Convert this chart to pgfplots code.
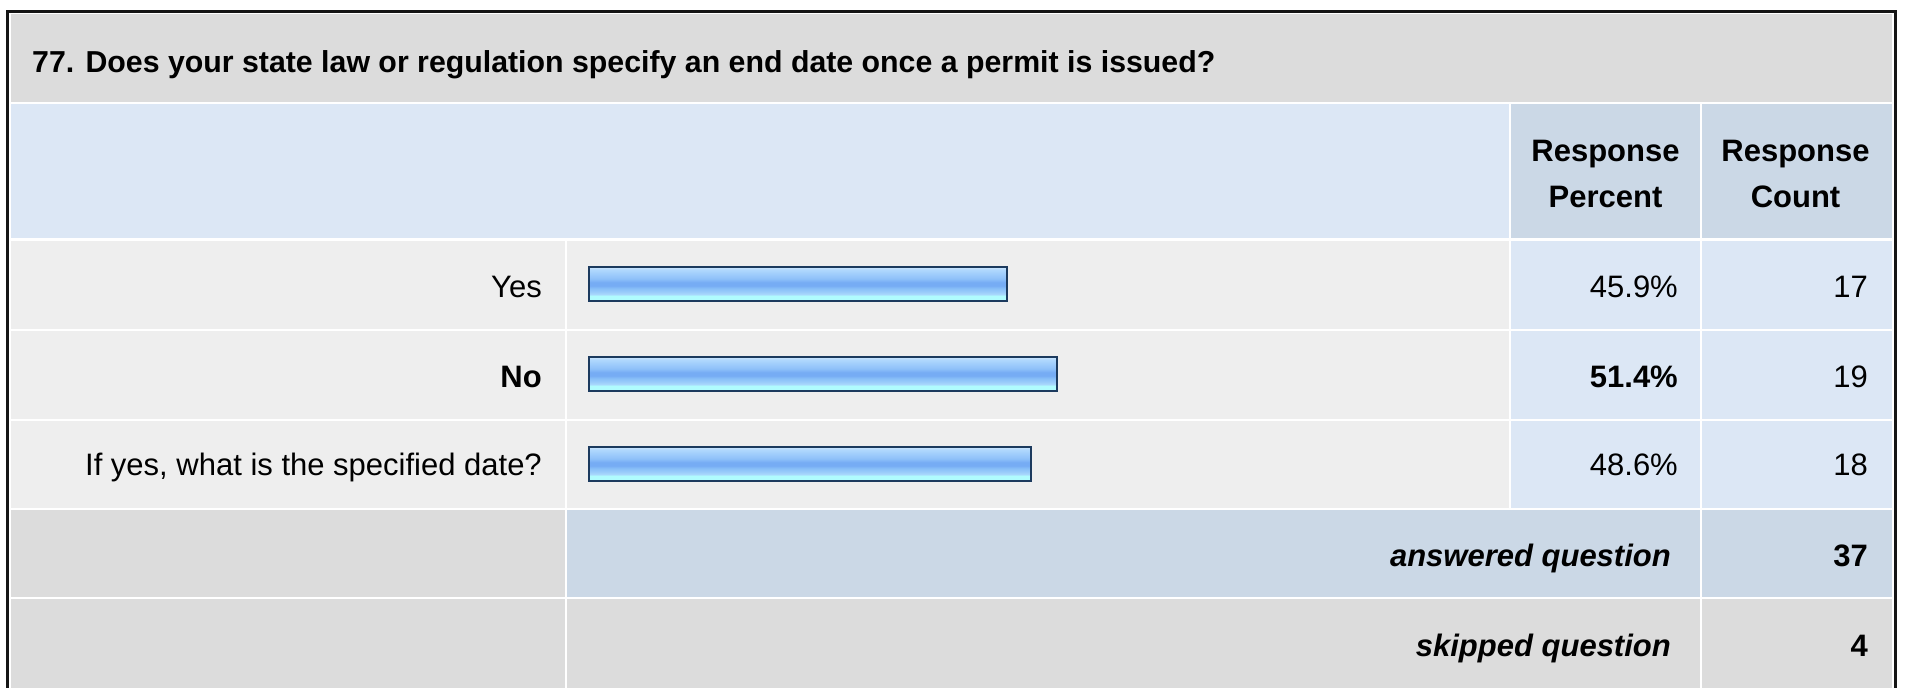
\documentclass[border=0pt]{standalone}
\usepackage{pgfplots}
\pgfplotsset{compat=1.18}
\usepackage{fontspec}
\setmainfont{Liberation Sans}
\definecolor{titlebg}{HTML}{DCDCDC}
\definecolor{hdrbg}{HTML}{DCE7F5}
\definecolor{hdrcell}{HTML}{CBD8E6}
\definecolor{rowbg}{HTML}{EEEEEE}
\definecolor{borderblk}{HTML}{151515}
\definecolor{barborder}{HTML}{1C3A5E}
\definecolor{bA}{HTML}{CDE6FF}
\definecolor{bB}{HTML}{B0D8FD}
\definecolor{bC}{HTML}{A0CDFC}
\definecolor{bD}{HTML}{8FC1F9}
\definecolor{bE}{HTML}{76ACF4}
\definecolor{bF}{HTML}{88BFF8}
\definecolor{bG}{HTML}{98CBFA}
\definecolor{bH}{HTML}{A8D8FC}
\definecolor{bI}{HTML}{B0FCFE}
\pgfdeclareverticalshading{barshade}{100bp}{color(0bp)=(bI); color(25bp)=(bI); color(32.5bp)=(bI); color(35bp)=(bH); color(39bp)=(bG); color(43.5bp)=(bF); color(47.5bp)=(bE); color(52.5bp)=(bE); color(58bp)=(bD); color(65bp)=(bC); color(71bp)=(bB); color(75bp)=(bA); color(100bp)=(bA)}
\newcommand{\fs}{\fontsize{31}{37}\selectfont}
\newcommand{\tfs}{\fontsize{30.3}{36}\selectfont}
\begin{document}
\begin{tikzpicture}
\useasboundingbox (0,0) rectangle (1907pt,-688pt);
\begin{scope}[x=1pt,y=-1pt]
  % white inner area and outer border
  \fill[white] (0,0) rectangle (1907,688);
  \fill[borderblk] (6,10) rectangle (1897,12.5);
  \fill[borderblk] (6,10) rectangle (9,688);
  \fill[borderblk] (1893.5,10) rectangle (1897,688);
  % title band
  \fill[titlebg] (11,14.3) rectangle (1892,102);
  % header row
  \fill[hdrbg] (11,104) rectangle (1509,238.3);
  \fill[hdrcell] (1511,104) rectangle (1699.5,238.3);
  \fill[hdrcell] (1702,104) rectangle (1892,238.3);
  % data rows
  \foreach \ya/\yb in {240.5/328.5, 330.5/418.5, 420.5/507.5}{
    \fill[rowbg] (11,\ya) rectangle (565,\yb);
    \fill[rowbg] (567,\ya) rectangle (1509,\yb);
    \fill[hdrbg] (1511,\ya) rectangle (1699.5,\yb);
    \fill[hdrbg] (1702,\ya) rectangle (1892,\yb);
  }
  % answered row
  \fill[titlebg] (11,509.5) rectangle (565,596.5);
  \fill[hdrcell] (567,509.5) rectangle (1699.5,596.5);
  \fill[hdrcell] (1702,509.5) rectangle (1892,596.5);
  % skipped row
  \fill[titlebg] (11,598.5) rectangle (565,688);
  \fill[titlebg] (567,598.5) rectangle (1699.5,688);
  \fill[titlebg] (1702,598.5) rectangle (1892,688);
  % texts
  \node[anchor=base west, inner sep=0, font=\tfs\bfseries] at (32,72) {77. Does your state law or regulation specify an end date once a permit is issued?};
  \node[anchor=base, inner sep=0, font=\fs\bfseries] at (1605.5,161) {Response};
  \node[anchor=base, inner sep=0, font=\fs\bfseries] at (1605.5,207) {Percent};
  \node[anchor=base, inner sep=0, font=\fs\bfseries] at (1795.5,161) {Response};
  \node[anchor=base, inner sep=0, font=\fs\bfseries] at (1795.5,207) {Count};
  \node[anchor=base east, inner sep=0, font=\fs] at (542,297) {Yes};
  \node[anchor=base east, inner sep=0, font=\fs\bfseries] at (542,387) {No};
  \node[anchor=base east, inner sep=0, font=\fs] at (542,475.5) {If yes, what is the specified date?};
  \node[anchor=base east, inner sep=0, font=\fs] at (1678,297) {45.9\%};
  \node[anchor=base east, inner sep=0, font=\fs\bfseries] at (1678,387) {51.4\%};
  \node[anchor=base east, inner sep=0, font=\fs] at (1678,475.5) {48.6\%};
  \node[anchor=base east, inner sep=0, font=\fs] at (1868,297) {17};
  \node[anchor=base east, inner sep=0, font=\fs] at (1868,387) {19};
  \node[anchor=base east, inner sep=0, font=\fs] at (1868,475.5) {18};
  \node[anchor=base east, inner sep=0, font=\fs\bfseries\itshape] at (1671,566) {answered question};
  \node[anchor=base east, inner sep=0, font=\fs\bfseries] at (1868,566) {37};
  \node[anchor=base east, inner sep=0, font=\fs\bfseries\itshape] at (1671,656) {skipped question};
  \node[anchor=base east, inner sep=0, font=\fs\bfseries] at (1868,656) {4};
\end{scope}
\begin{axis}[
  at={(589pt,-509pt)}, anchor=south west,
  width=910pt, height=270pt, scale only axis,
  xmin=0, xmax=100, ymin=-0.5, ymax=2.5, y dir=reverse,
  hide axis, clip=false,
  xbar, bar width=34pt,
]
\addplot[xbar, bar shift=0pt, draw=barborder, line width=2pt, shading=barshade] coordinates {(45.9,0)};
\addplot[xbar, bar shift=0pt, draw=barborder, line width=2pt, shading=barshade] coordinates {(51.4,1)};
\addplot[xbar, bar shift=0pt, draw=barborder, line width=2pt, shading=barshade] coordinates {(48.6,2)};
\end{axis}
\end{tikzpicture}
\end{document}
